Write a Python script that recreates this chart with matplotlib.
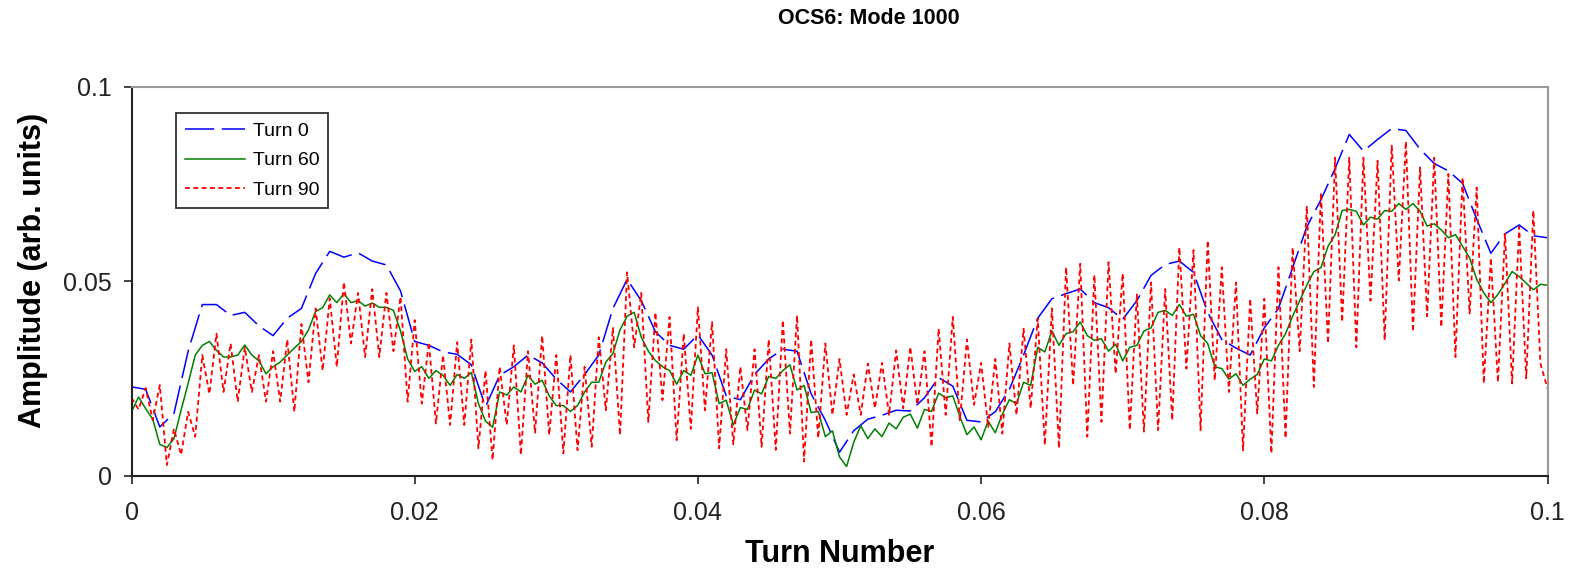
import numpy as np
import matplotlib
matplotlib.use("Agg")
import matplotlib.pyplot as plt
from matplotlib.ticker import FixedLocator, FixedFormatter

plt.rcParams['font.family'] = ['Liberation Sans', 'DejaVu Sans']
plt.rcParams['lines.scale_dashes'] = False

title = "OCS6: Mode 1000"
xlabel = "Turn Number"
ylabel = "Amplitude (arb. units)"
series_names = ["Turn 0", "Turn 60", "Turn 90"]

xtick_values = [0, 0.02, 0.04, 0.06, 0.08, 0.1]
xtick_labels = ["0", "0.02", "0.04", "0.06", "0.08", "0.1"]
ytick_values = [0, 0.05, 0.1]
ytick_labels = ["0", "0.05", "0.1"]

# Turn 0 sampled every 0.001
turn0_x = np.linspace(0.0, 0.1, 101)
turn0 = [
    0.0228, 0.0222, 0.0125, 0.0160, 0.0320, 0.0440, 0.0440, 0.0412, 0.0420, 0.0385,
    0.0360, 0.0405, 0.0430, 0.0520, 0.0577, 0.0562, 0.0573, 0.0552, 0.0542, 0.0475,
    0.0345, 0.0335, 0.0318, 0.0312, 0.0285, 0.0177, 0.0258, 0.0280, 0.0310, 0.0290,
    0.0248, 0.0215, 0.0260, 0.0310, 0.0430, 0.0505, 0.0450, 0.0370, 0.0335, 0.0325,
    0.0362, 0.0310, 0.0205, 0.0195, 0.0260, 0.0300, 0.0325, 0.0320, 0.0210, 0.0142,
    0.0060, 0.0115, 0.0145, 0.0155, 0.0168, 0.0166, 0.0200, 0.0252, 0.0230, 0.0142,
    0.0138, 0.0164, 0.0222, 0.0310, 0.0405, 0.0455, 0.0468, 0.0480, 0.0445, 0.0432,
    0.0402, 0.0450, 0.0515, 0.0543, 0.0552, 0.0523, 0.0420, 0.0350, 0.0328, 0.0310,
    0.0380, 0.0430, 0.0535, 0.0640, 0.0710, 0.0790, 0.0878, 0.0835, 0.0865, 0.0893,
    0.0888, 0.0840, 0.0803, 0.0784, 0.0752, 0.0660, 0.0572, 0.0622, 0.0645, 0.0617,
    0.0612,
]

# Turn 60 and Turn 90 sampled every 0.0005
fine_x = np.linspace(0.0, 0.1, 201)
turn60 = [
    0.0164, 0.0202, 0.0172, 0.0145, 0.0080, 0.0072, 0.0095, 0.0168, 0.0237, 0.0310,
    0.0335, 0.0345, 0.0322, 0.0305, 0.0305, 0.0310, 0.0336, 0.0310, 0.0295, 0.0262,
    0.0280, 0.0292, 0.0310, 0.0328, 0.0345, 0.0375, 0.0422, 0.0432, 0.0465, 0.0445,
    0.0468, 0.0445, 0.0450, 0.0436, 0.0444, 0.0433, 0.0433, 0.0425, 0.0372, 0.0300,
    0.0268, 0.0280, 0.0250, 0.0270, 0.0258, 0.0232, 0.0260, 0.0250, 0.0265, 0.0185,
    0.0140, 0.0124, 0.0215, 0.0207, 0.0228, 0.0215, 0.0258, 0.0235, 0.0245, 0.0205,
    0.0180, 0.0180, 0.0165, 0.0180, 0.0215, 0.0240, 0.0240, 0.0292, 0.0314, 0.0375,
    0.0410, 0.0420, 0.0356, 0.0320, 0.0296, 0.0280, 0.0270, 0.0235, 0.0270, 0.0258,
    0.0310, 0.0262, 0.0265, 0.0185, 0.0194, 0.0130, 0.0175, 0.0170, 0.0220, 0.0210,
    0.0255, 0.0250, 0.0270, 0.0285, 0.0220, 0.0232, 0.0162, 0.0165, 0.0100, 0.0115,
    0.0048, 0.0023, 0.0085, 0.0128, 0.0095, 0.0120, 0.0100, 0.0135, 0.0120, 0.0150,
    0.0158, 0.0122, 0.0170, 0.0165, 0.0212, 0.0200, 0.0205, 0.0152, 0.0105, 0.0125,
    0.0092, 0.0140, 0.0110, 0.0158, 0.0195, 0.0185, 0.0240, 0.0232, 0.0330, 0.0318,
    0.0372, 0.0335, 0.0365, 0.0370, 0.0395, 0.0360, 0.0348, 0.0352, 0.0320, 0.0338,
    0.0295, 0.0330, 0.0335, 0.0372, 0.0380, 0.0420, 0.0425, 0.0412, 0.0440, 0.0410,
    0.0415, 0.0360, 0.0340, 0.0280, 0.0275, 0.0248, 0.0262, 0.0232, 0.0248, 0.0260,
    0.0300, 0.0295, 0.0335, 0.0365, 0.0410, 0.0450, 0.0490, 0.0525, 0.0535, 0.0590,
    0.0620, 0.0682, 0.0685, 0.0680, 0.0645, 0.0665, 0.0660, 0.0682, 0.0680, 0.0700,
    0.0685, 0.0700, 0.0680, 0.0642, 0.0648, 0.0632, 0.0612, 0.0620, 0.0590, 0.0560,
    0.0505, 0.0470, 0.0445, 0.0466, 0.0495, 0.0525, 0.0512, 0.0495, 0.0478, 0.0492,
    0.0490,
]

turn90 = [
    0.0200, 0.0170, 0.0225, 0.0143, 0.0233, 0.0027, 0.0120, 0.0053, 0.0164, 0.0100,
    0.0310, 0.0210, 0.0365, 0.0215, 0.0340, 0.0190, 0.0330, 0.0215, 0.0310, 0.0190,
    0.0320, 0.0190, 0.0350, 0.0164, 0.0390, 0.0240, 0.0430, 0.0270, 0.0456, 0.0280,
    0.0498, 0.0340, 0.0470, 0.0305, 0.0480, 0.0305, 0.0470, 0.0320, 0.0460, 0.0190,
    0.0400, 0.0185, 0.0343, 0.0134, 0.0310, 0.0130, 0.0343, 0.0130, 0.0350, 0.0070,
    0.0270, 0.0040, 0.0280, 0.0130, 0.0335, 0.0053, 0.0320, 0.0110, 0.0360, 0.0104,
    0.0310, 0.0057, 0.0310, 0.0065, 0.0280, 0.0074, 0.0356, 0.0168, 0.0380, 0.0104,
    0.0523, 0.0330, 0.0470, 0.0138, 0.0420, 0.0194, 0.0408, 0.0091, 0.0365, 0.0120,
    0.0433, 0.0168, 0.0395, 0.0070, 0.0325, 0.0080, 0.0280, 0.0117, 0.0325, 0.0074,
    0.0350, 0.0066, 0.0400, 0.0108, 0.0412, 0.0036, 0.0350, 0.0096, 0.0340, 0.0156,
    0.0300, 0.0156, 0.0260, 0.0156, 0.0288, 0.0173, 0.0290, 0.0156, 0.0322, 0.0173,
    0.0331, 0.0182, 0.0320, 0.0074, 0.0378, 0.0156, 0.0408, 0.0142, 0.0350, 0.0182,
    0.0290, 0.0125, 0.0300, 0.0108, 0.0340, 0.0156, 0.0378, 0.0173, 0.0404, 0.0078,
    0.0430, 0.0070, 0.0536, 0.0232, 0.0545, 0.0100, 0.0516, 0.0138, 0.0549, 0.0262,
    0.0520, 0.0117, 0.0466, 0.0113, 0.0497, 0.0117, 0.0480, 0.0142, 0.0587, 0.0275,
    0.0580, 0.0117, 0.0605, 0.0245, 0.0536, 0.0215, 0.0497, 0.0065, 0.0455, 0.0160,
    0.0455, 0.0057, 0.0536, 0.0096, 0.0587, 0.0320, 0.0694, 0.0228, 0.0728, 0.0340,
    0.0818, 0.0395, 0.0818, 0.0330, 0.0818, 0.0450, 0.0810, 0.0348, 0.0849, 0.0502,
    0.0860, 0.0370, 0.0793, 0.0410, 0.0818, 0.0382, 0.0776, 0.0305, 0.0767, 0.0417,
    0.0741, 0.0237, 0.0560, 0.0240, 0.0622, 0.0237, 0.0640, 0.0250, 0.0682, 0.0288,
    0.0224,
]

W, H = 1578, 568
fig = plt.figure(figsize=(W / 100, H / 100), dpi=100)
ax = fig.add_axes([131.5 / W, 1 - 475.5 / H, 1416 / W, 388.5 / H])

ax.plot(turn0_x, turn0, color='#0000FF', lw=1.1, linestyle=(0, (21, 5.5)),
        label=series_names[0])
ax.plot(fine_x, turn60, color='#008000', lw=1.1, linestyle='-',
        label=series_names[1])
ax.plot(fine_x, turn90, color='#FF0000', lw=1.3, linestyle=(0, (3.5, 2.5)),
        label=series_names[2])

ax.set_xlim(0, 0.1)
ax.set_ylim(0, 0.1)
ax.xaxis.set_major_locator(FixedLocator(xtick_values))
ax.xaxis.set_major_formatter(FixedFormatter(xtick_labels))
ax.yaxis.set_major_locator(FixedLocator(ytick_values))
ax.yaxis.set_major_formatter(FixedFormatter(ytick_labels))
ax.tick_params(axis='both', direction='out', length=6, width=1.2,
               labelsize=18, colors='#222222')
ax.tick_params(axis='x', pad=12)
ax.tick_params(axis='y', pad=8)

for side in ('left', 'bottom'):
    ax.spines[side].set_color('#222222')
    ax.spines[side].set_linewidth(1.5)
for side in ('top', 'right'):
    ax.spines[side].set_color('#999999')
    ax.spines[side].set_linewidth(1.5)

ax.set_xlabel(xlabel, fontsize=22, fontweight='bold', va='baseline')
ax.xaxis.set_label_coords(0.5, (475.5 - 561.7) / 388.5)
ax.set_ylabel(ylabel, fontsize=22, fontweight='bold', va='center')
ax.yaxis.set_label_coords((33 - 131.5) / 1416, (475.5 - 270.7) / 388.5)

fig.text(869 / W, 1 - 19 / H, title, fontsize=15.5, fontweight='bold',
         ha='center', va='center')

leg = ax.legend(loc='upper left',
                bbox_to_anchor=((176 - 131.5) / 1416, (475.5 - 113.3) / 388.5),
                borderaxespad=0, fontsize=14, frameon=True, fancybox=False,
                edgecolor='black', handlelength=3.1, handletextpad=0.4,
                labelspacing=0.62, borderpad=0.45)
leg.get_frame().set_linewidth(1.3)

fig.savefig("out.png", dpi=100)
